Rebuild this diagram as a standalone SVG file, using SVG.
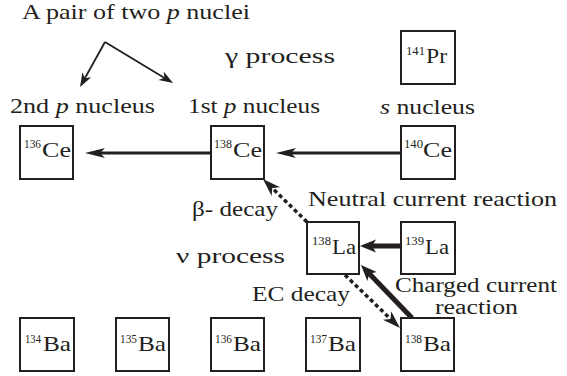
<svg xmlns="http://www.w3.org/2000/svg" width="567" height="376" viewBox="0 0 567 376">
<style>
text{font-family:'Liberation Serif','Times New Roman',serif;fill:#231f20}
.lbl{font-size:21px}
.cc{font-size:20px}
.sup{font-size:12px}
.el{font-size:22px}
.box{fill:#fff;stroke:#231f20;stroke-width:2}
.ln{fill:none;stroke:#231f20}
.thin{stroke-width:1.8}
.mid{stroke-width:3}
.thick{stroke-width:5}
.dot{stroke-width:3.5;stroke-dasharray:4 3}
.it{font-style:italic}
</style>
<defs>
<marker id="mS" markerUnits="userSpaceOnUse" markerWidth="14" markerHeight="10" refX="6" refY="5" orient="auto" overflow="visible">
<path d="M0,0 L14,5 L0,10 L4,5 z" fill="#231f20"/>
</marker>
<marker id="mM" markerUnits="userSpaceOnUse" markerWidth="20" markerHeight="10" refX="10" refY="5" orient="auto" overflow="visible">
<path d="M0,0 L20,5 L0,10 L5,5 z" fill="#231f20"/>
</marker>
<marker id="mD" markerUnits="userSpaceOnUse" markerWidth="18" markerHeight="12" refX="9" refY="6" orient="auto" overflow="visible">
<path d="M0,0 L18,6 L0,12 L5,6 z" fill="#231f20"/>
</marker>
<marker id="mL" markerUnits="userSpaceOnUse" markerWidth="16" markerHeight="13" refX="8" refY="6.5" orient="auto" overflow="visible">
<path d="M0,0 L16,6.5 L0,13 L4,6.5 z" fill="#231f20"/>
</marker>
</defs>

<g id="labels">
<text class="lbl" x="22" y="19" textLength="228" lengthAdjust="spacingAndGlyphs">A pair of two <tspan class="it">p</tspan> nuclei</text>
<text class="lbl" x="225" y="63" textLength="110" lengthAdjust="spacingAndGlyphs">γ process</text>
<text class="lbl" x="10" y="113" textLength="145" lengthAdjust="spacingAndGlyphs">2nd <tspan class="it">p</tspan> nucleus</text>
<text class="lbl" x="188" y="113" textLength="132" lengthAdjust="spacingAndGlyphs">1st <tspan class="it">p</tspan> nucleus</text>
<text class="lbl" x="380" y="114" textLength="95" lengthAdjust="spacingAndGlyphs"><tspan class="it">s</tspan> nucleus</text>
<text class="lbl" x="308" y="206" textLength="249" lengthAdjust="spacingAndGlyphs">Neutral current reaction</text>
<text class="lbl" x="192" y="216" textLength="86" lengthAdjust="spacingAndGlyphs">β- decay</text>
<text class="lbl" x="176" y="263" textLength="109" lengthAdjust="spacingAndGlyphs">ν process</text>
<text class="lbl" x="252" y="301" textLength="98" lengthAdjust="spacingAndGlyphs">EC decay</text>
<text class="cc" x="395" y="292" textLength="162" lengthAdjust="spacingAndGlyphs">Charged current</text>
<text class="cc" x="435" y="314" textLength="83" lengthAdjust="spacingAndGlyphs">reaction</text>
</g>

<g id="connectors">
<line class="ln thin" x1="105" y1="42" x2="83.9" y2="80" marker-end="url(#mS)"/>
<line class="ln thin" x1="105" y1="42" x2="166.2" y2="78.9" marker-end="url(#mS)"/>
<line class="ln mid" x1="211" y1="153" x2="95" y2="153" marker-end="url(#mM)"/>
<line class="ln mid" x1="401" y1="153" x2="286" y2="153" marker-end="url(#mM)"/>
<line class="ln thick" x1="401" y1="246" x2="368" y2="246" marker-end="url(#mL)"/>
<line class="ln dot" x1="307" y1="222" x2="269.4" y2="185.3" marker-end="url(#mD)"/>
<line class="ln thick" x1="412" y1="318" x2="366.5" y2="270.8" marker-end="url(#mL)"/>
<line class="ln dot" x1="345" y1="275" x2="393.5" y2="321.8" marker-end="url(#mD)"/>
</g>

<g id="Pr141"><rect class="box" x="401" y="31" width="54" height="53"/><text class="sup" x="406" y="55" textLength="19" lengthAdjust="spacingAndGlyphs">141</text><text class="el" x="426" y="63" textLength="21" lengthAdjust="spacingAndGlyphs">Pr</text></g>

<g id="Ce136"><rect class="box" x="20" y="126" width="53" height="53"/><text class="sup" x="24" y="148" textLength="17" lengthAdjust="spacingAndGlyphs">136</text><text class="el" x="42" y="157" textLength="29" lengthAdjust="spacingAndGlyphs">Ce</text></g>
<g id="Ce138"><rect class="box" x="211" y="126" width="53" height="53"/><text class="sup" x="214" y="148" textLength="18" lengthAdjust="spacingAndGlyphs">138</text><text class="el" x="233" y="157" textLength="29" lengthAdjust="spacingAndGlyphs">Ce</text></g>
<g id="Ce140"><rect class="box" x="401" y="126" width="54" height="53"/><text class="sup" x="404" y="148" textLength="19" lengthAdjust="spacingAndGlyphs">140</text><text class="el" x="423" y="157" textLength="29" lengthAdjust="spacingAndGlyphs">Ce</text></g>

<g id="La138"><rect class="box" x="307" y="222" width="52" height="52"/><text class="sup" x="312" y="245" textLength="19" lengthAdjust="spacingAndGlyphs">138</text><text class="el" x="332" y="254" textLength="24" lengthAdjust="spacingAndGlyphs">La</text></g>
<g id="La139"><rect class="box" x="401" y="222" width="54" height="52"/><text class="sup" x="405" y="245" textLength="19" lengthAdjust="spacingAndGlyphs">139</text><text class="el" x="425" y="254" textLength="24" lengthAdjust="spacingAndGlyphs">La</text></g>

<g id="Ba134"><rect class="box" x="20" y="318" width="54" height="53"/><text class="sup" x="25" y="343" textLength="16" lengthAdjust="spacingAndGlyphs">134</text><text class="el" x="43" y="351" textLength="28" lengthAdjust="spacingAndGlyphs">Ba</text></g>
<g id="Ba135"><rect class="box" x="116" y="318" width="53" height="53"/><text class="sup" x="120" y="343" textLength="17" lengthAdjust="spacingAndGlyphs">135</text><text class="el" x="138" y="351" textLength="28" lengthAdjust="spacingAndGlyphs">Ba</text></g>
<g id="Ba136"><rect class="box" x="211" y="318" width="53" height="53"/><text class="sup" x="215" y="343" textLength="17" lengthAdjust="spacingAndGlyphs">136</text><text class="el" x="233" y="351" textLength="28" lengthAdjust="spacingAndGlyphs">Ba</text></g>
<g id="Ba137"><rect class="box" x="306" y="318" width="54" height="53"/><text class="sup" x="310" y="343" textLength="17" lengthAdjust="spacingAndGlyphs">137</text><text class="el" x="328" y="351" textLength="28" lengthAdjust="spacingAndGlyphs">Ba</text></g>
<g id="Ba138"><rect class="box" x="401" y="318" width="53" height="53"/><text class="sup" x="405" y="343" textLength="17" lengthAdjust="spacingAndGlyphs">138</text><text class="el" x="423" y="351" textLength="28" lengthAdjust="spacingAndGlyphs">Ba</text></g>
</svg>
